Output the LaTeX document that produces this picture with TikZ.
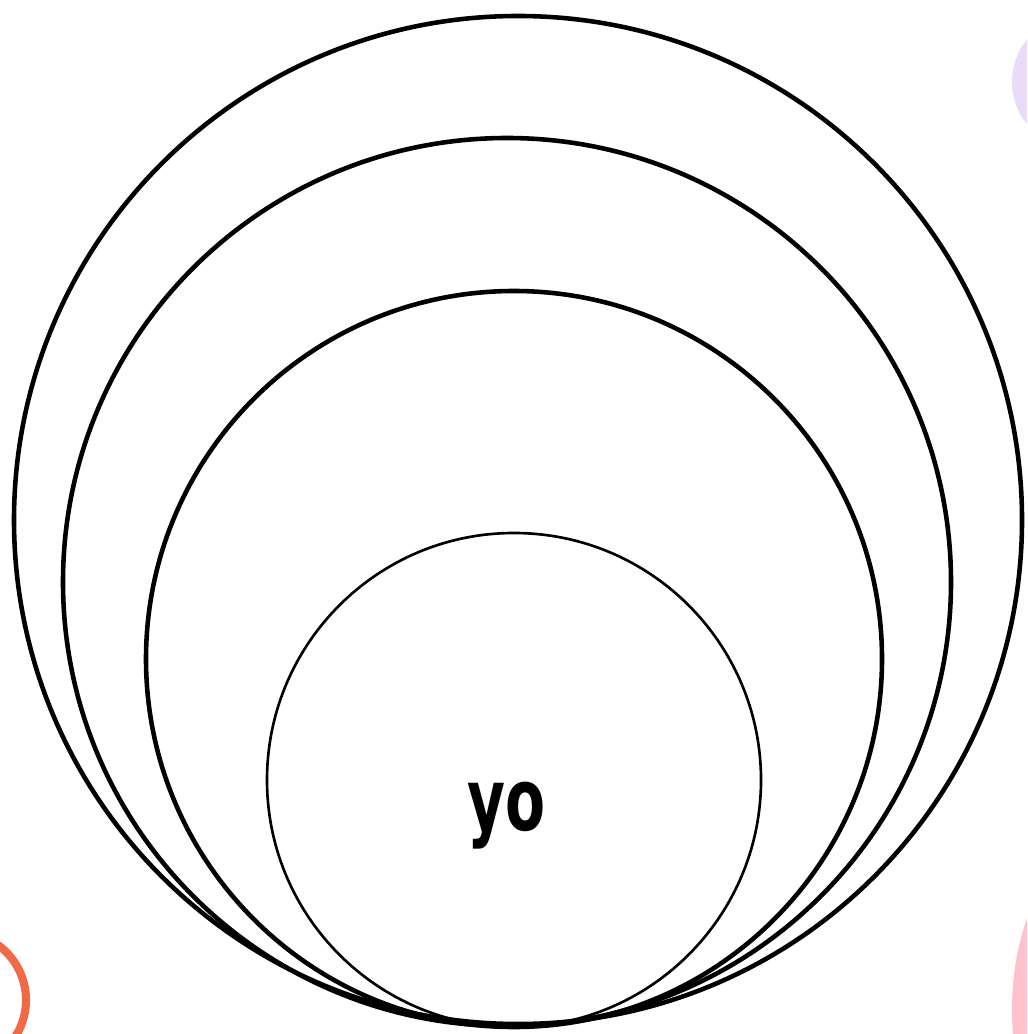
\documentclass[tikz,border=0pt]{standalone}
\usepackage{fontspec}
\newfontfamily\labelfont{DejaVu Sans}
\usepackage{graphicx}
\definecolor{lav}{HTML}{EADCF8}
\definecolor{orng}{HTML}{F06A48}
\definecolor{pnk}{HTML}{FFC2CC}
\begin{document}
\begin{tikzpicture}[x=0.01cm,y=-0.01cm,
  ring/.style={draw=black,line width=1.3pt},
  thinring/.style={draw=black,line width=0.75pt}]
\useasboundingbox (0,0) rectangle (1027,1034);
\fill[white] (0,0) rectangle (1027,1034);
% side decorations
\begin{scope}
\clip (0,0) rectangle (1027,1034);
\fill[lav] (1060,82) ellipse (48 and 58);
\draw[orng,line width=2.3pt] (-42,1000) circle (68);
\fill[pnk] (1085,1010) ellipse (73 and 150);
\end{scope}
% circles
\node[ring,circle,minimum size=1008*0.01cm,inner sep=0pt] (c1) at (518,520) {};
\node[ring,circle,minimum size=888*0.01cm,inner sep=0pt] (c2) at (507,582) {};
\node[ring,circle,minimum size=736*0.01cm,inner sep=0pt] (c3) at (514,659) {};
\node[thinring,circle,minimum size=494*0.01cm,inner sep=0pt] (c4) at (514,780) {};
\node (yo) at (507,816) {\resizebox*{0.78cm}{0.67cm}{\labelfont\bfseries yo}};
\end{tikzpicture}
\end{document}
